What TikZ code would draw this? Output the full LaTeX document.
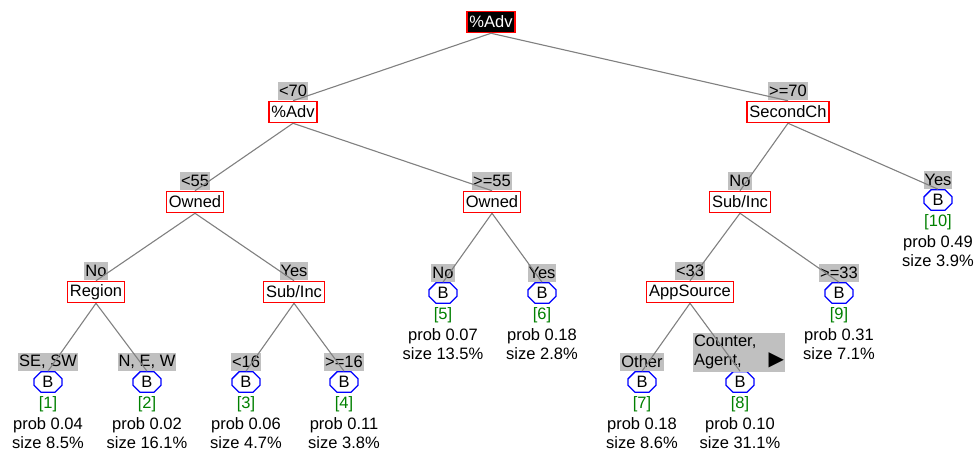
\documentclass[tikz,border=0pt]{standalone}
\usepackage{fontspec}
\setmainfont{Liberation Sans}
\newfontfamily\symfont{DejaVu Sans}
\usetikzlibrary{positioning,shapes.misc}
\definecolor{labelgray}{RGB}{192,192,192}
\definecolor{linegray}{RGB}{128,128,128}
\definecolor{idgreen}{RGB}{0,128,0}

\begin{document}
\begin{tikzpicture}[x=1pt,y=-1pt,font=\fontsize{16.5}{19}\selectfont]
% Styles
\tikzstyle{split box}=[draw=red,line width=1.5pt,fill=white,inner xsep=2.5pt,inner ysep=0pt,minimum height=21pt]
\tikzstyle{root box}=[split box,fill=black,text=white]
\tikzstyle{edge label}=[fill=labelgray,inner xsep=1pt,inner ysep=0pt,minimum height=18pt]
\tikzstyle{leaf box}=[chamfered rectangle,draw=blue,line width=1.3pt,inner xsep=5pt,inner ysep=1pt,chamfered rectangle xsep=3.5pt,chamfered rectangle ysep=3.5pt]
\tikzstyle{leaf id}=[text=idgreen,inner sep=0pt,text height=12pt,text depth=3.5pt]
\tikzstyle{information text}=[align=center,inner sep=0pt]
\tikzstyle{branch}=[draw=linegray,line width=1.1pt]

\useasboundingbox (0,0) rectangle (975,451);

% the split nodes
\node[root box] (root) at (491,22) {\%Adv};
\node[split box] (adv) at (293,112) {\%Adv};
\node[split box] (sec) at (788,112) {SecondCh};
\node[split box] (own1) at (195,202) {Owned};
\node[split box] (own2) at (492,202) {Owned};
\node[split box] (sub1) at (740,202) {Sub/Inc};
\node[split box] (reg) at (96,292) {Region};
\node[split box] (sub2) at (294,292) {Sub/Inc};
\node[split box] (app) at (690,292) {AppSource};

% the leaves
\foreach \n/\x/\y/\p/\s in {1/48/382/0.04/8.5, 2/147/382/0.02/16.1, 3/246/382/0.06/4.7,
4/344/382/0.11/3.8, 5/443/293/0.07/13.5, 6/542/293/0.18/2.8, 7/642/382/0.18/8.6,
8/740/382/0.10/31.1, 9/839/293/0.31/7.1, 10/938/200/0.49/3.9} {
\node[leaf box] (l\n) at (\x,\y) {B};
\node[leaf id, below=3.5pt of l\n] (id\n) {[\n]};
\node[information text, below=5pt of id\n] {prob \p\\size \s\%};
}

% labels of the branches
\foreach \b/\t in {adv/<70, sec/>=70, own1/<55, own2/>=55, sub1/No, reg/No, sub2/Yes, app/<33}
\node[edge label, above=1pt of \b] {\t};
\foreach \n/\t in {1/{SE, SW}, 2/{N, E, W}, 3/<16, 4/>=16, 5/No, 6/Yes, 7/Other, 9/>=33, 10/Yes}
\node[edge label, above=0pt of l\n] {\t};
\node[edge label, text width=90pt, align=left, inner ysep=2.5pt, anchor=south] (lab8) at (739,372)
{Counter,\\Agent,\hfill{\symfont\fontsize{20}{15}\selectfont ▶}};

% the branches
\foreach \a/\b in {root/adv, root/sec, adv/own1, adv/own2, sec/sub1, sec/l10, own1/reg,
own1/sub2, own2/l5, own2/l6, sub1/app, sub1/l9, reg/l1, reg/l2, sub2/l3, sub2/l4, app/l7, app/l8}
\draw[branch] (\a.south) -- (\b.north);

\end{tikzpicture}
\end{document}
